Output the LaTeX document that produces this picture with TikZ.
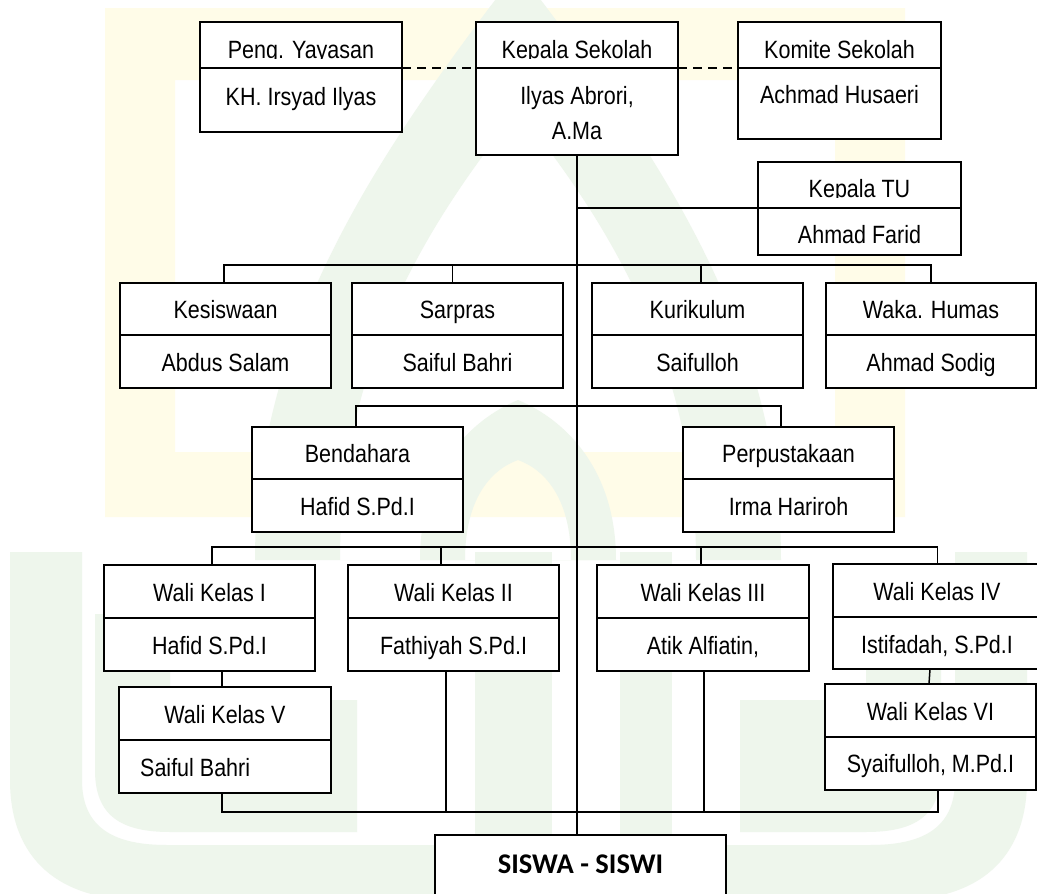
\documentclass[tikz,border=0pt]{standalone}
\usepackage{fontspec}
\newfontfamily\lsans{Liberation Sans}[FakeStretch=0.86]
\newfontfamily\calib{Carlito}
\definecolor{wmY}{RGB}{255,252,232}
\definecolor{wmG}{RGB}{238,246,236}
\tikzset{
  box/.style={draw=black, fill=white, line width=1.7pt, inner sep=0pt, outer sep=0pt},
  divline/.style={line width=1.7pt},
  conn/.style={line width=1.5pt},
  txt/.style={font=\lsans\fontsize{25}{30}\selectfont, inner sep=0pt, anchor=base},
  bigtxt/.style={font=\calib\bfseries\fontsize{28.5}{33}\selectfont, inner sep=0pt, anchor=base},
}
\newcommand\orgbox[6]{%
  \node[box, minimum width={(#4-#2)*1pt}, minimum height={(#6-#3)*1pt}] (#1) at ({(#2+#4)/2},{(#3+#6)/2}) {};
  \coordinate (#1dw) at (#2,#5);
  \coordinate (#1de) at (#4,#5);
  \draw[divline] (#1dw) -- (#1de);
}
\begin{document}
\begin{tikzpicture}[x=1pt,y=-1pt]
\useasboundingbox (0,0) rectangle (1037,894);
\clip (0,0) rectangle (1037,894);
\fill[white] (0,0) rectangle (1037,894);
% ---- watermark ----
\fill[wmY, even odd rule] (105,8) rectangle (905,517) (175,80) rectangle (835,452);
\fill[wmG, even odd rule]
  (255,560) .. controls (255,330) and (380,150) .. (518,-30) .. controls (656,150) and (781,330) .. (781,560) -- cycle
  (340,560) .. controls (340,360) and (430,220) .. (518,110) .. controls (606,220) and (696,360) .. (696,560) -- cycle;
\fill[wmG, even odd rule]
  (420,560) .. controls (420,470) and (470,420) .. (518,400) .. controls (566,420) and (616,470) .. (616,560) -- cycle
  (465,560) .. controls (465,500) and (490,470) .. (518,460) .. controls (546,470) and (571,500) .. (571,560) -- cycle;
\fill[wmG] (10,552) -- (10,780) .. controls (10,860) and (60,900) .. (140,900) -- (897,900) .. controls (977,900) and (1027,860) .. (1027,780) -- (1027,552) -- (955,552) -- (955,780) .. controls (955,830) and (920,845) .. (870,845) -- (167,845) .. controls (117,845) and (82,830) .. (82,780) -- (82,552) -- cycle;
\fill[wmG] (95,614) -- (95,770) .. controls (95,815) and (120,832) .. (170,832) -- (357,832) -- (357,700) -- (170,700) -- (170,614) -- cycle;
\fill[wmG] (475,552) rectangle (552,845);
\fill[wmG] (620,552) rectangle (672,845);
\fill[wmG] (941,614) -- (941,770) .. controls (941,815) and (916,832) .. (866,832) -- (740,832) -- (740,700) -- (866,700) -- (866,614) -- cycle;
% ---- boxes ----
\orgbox{peng}{200}{22}{402}{68}{132}
\orgbox{ks}{476}{22}{678}{68}{155}
\orgbox{kom}{738}{22}{941}{68}{139}
\orgbox{tu}{758}{162}{961}{208}{255}
\orgbox{kes}{120}{283}{331}{335}{388}
\orgbox{sar}{352}{283}{563}{335}{388}
\orgbox{kur}{592}{283}{803}{335}{388}
\orgbox{hum}{826}{283}{1036}{335}{388}
\orgbox{ben}{252}{427}{463}{479}{532}
\orgbox{per}{683}{427}{894}{479}{532}
\orgbox{wa}{104}{565}{315}{618}{671}
\orgbox{wb}{348}{565}{559}{618}{671}
\orgbox{wc}{597}{565}{809}{618}{671}
\orgbox{wd}{833}{564}{1042}{617}{669}
\orgbox{we}{119}{687}{331}{740}{793}
\orgbox{wf}{825}{684}{1036}{737}{790}
\node[box, minimum width=291pt, minimum height=80pt] (sis) at (580.5,875) {};
% ---- texts ----
\begin{scope}
  \clip (200,20) rectangle (402,58.8);
  \node[txt] (pengt) at (301,58) {Peng. Yayasan};
\end{scope}
\node[txt] (pengb) at (301,105) {KH. Irsyad Ilyas};
\begin{scope}
  \clip (476,20) rectangle (678,58.8);
  \node[txt] (kst) at (577,58) {Kepala Sekolah};
\end{scope}
\node[txt] (ksb) at (577,104) {Ilyas Abrori,};
\node[txt] (ksc) at (577,139) {A.Ma};
\node[txt] (komt) at (839.5,58) {Komite Sekolah};
\node[txt] (komb) at (839.5,103) {Achmad Husaeri};
\begin{scope}
  \clip (758,160) rectangle (961,197.8);
  \node[txt] (tut) at (859.5,197) {Kepala TU};
\end{scope}
\node[txt] (tub) at (859.5,243) {Ahmad Farid};
\node[txt] (kest) at (225.5,318) {Kesiswaan};
\node[txt] (kesb) at (225.5,371) {Abdus Salam};
\node[txt] (sart) at (457.5,318) {Sarpras};
\node[txt] (sarb) at (457.5,371) {Saiful Bahri};
\node[txt] (kurt) at (697.5,318) {Kurikulum};
\node[txt] (kurb) at (697.5,371) {Saifulloh};
\node[txt] (humt) at (931,318) {Waka. Humas};
\node[txt] (humb) at (931,371) {Ahmad Sodig};
\node[txt] (bent) at (357.5,462) {Bendahara};
\node[txt] (benb) at (357.5,515) {Hafid S.Pd.I};
\node[txt] (pert) at (788.5,462) {Perpustakaan};
\node[txt] (perb) at (788.5,515) {Irma Hariroh};
\node[txt] (wat) at (209.5,601) {Wali Kelas I};
\node[txt] (wab) at (209.5,654) {Hafid S.Pd.I};
\node[txt] (wbt) at (453.5,601) {Wali Kelas II};
\node[txt] (wbb) at (453.5,654) {Fathiyah S.Pd.I};
\node[txt] (wct) at (703,601) {Wali Kelas III};
\node[txt] (wcb) at (703,654) {Atik Alfiatin,};
\node[txt] (wdt) at (937,600) {Wali Kelas IV};
\node[txt] (wdb) at (937,653) {Istifadah, S.Pd.I};
\node[txt] (wet) at (225,723) {Wali Kelas V};
\node[txt, anchor=base west] (web) at (140,776) {Saiful Bahri};
\node[txt] (wft) at (930.5,720) {Wali Kelas VI};
\node[txt] (wfb) at (930.5,772) {Syaifulloh, M.Pd.I};
\node[bigtxt] (sist) at (580.5,873) {SISWA - SISWI};
% ---- connectors ----
\coordinate (r2) at (0,265);
\coordinate (r3) at (0,406);
\coordinate (r4) at (0,547);
\coordinate (r5) at (0,812);
\draw[conn, dashed, dash pattern=on 9pt off 6pt] (pengde) -- (ksdw);
\draw[conn, dashed, dash pattern=on 9pt off 6pt] (ksde) -- ([xshift=16pt]komdw);
\draw[conn] (ks.south) -- (ks.south |- sis.north);
\draw[conn] (ks.south |- tudw) -- (tudw);
\draw[conn] ([xshift=-1.5pt]kes.north) -- ([xshift=-1.5pt]kes.north |- r2) -- (hum.north |- r2) -- (hum.north);
\draw[conn] ([xshift=-5pt]sar.north) -- ([xshift=-5pt]sar.north |- r2);
\draw[conn] ([xshift=3.5pt]kur.north) -- ([xshift=3.5pt]kur.north |- r2);
\draw[conn] ([xshift=-1.5pt]ben.north) -- ([xshift=-1.5pt]ben.north |- r3) -- ([xshift=-7.5pt]per.north |- r3) -- ([xshift=-7.5pt]per.north);
\draw[conn] ([xshift=2.5pt]wa.north) -- ([xshift=2.5pt]wa.north |- r4) -- (wd.north |- r4) -- (wd.north);
\draw[conn] ([xshift=-12.5pt]wb.north) -- ([xshift=-12.5pt]wb.north |- r4);
\draw[conn] ([xshift=-2pt]wc.north) -- ([xshift=-2pt]wc.north |- r4);
\draw[conn] ([xshift=12.5pt]wa.south) -- ([xshift=-3pt]we.north);
\draw[conn] ([xshift=-7.5pt]wd.south) -- ([xshift=-1.5pt]wf.north);
\draw[conn] ([xshift=-3pt]we.south) -- ([xshift=-3pt]we.south |- r5) -- ([xshift=7.5pt]wf.south |- r5) -- ([xshift=7.5pt]wf.south);
\draw[conn] ([xshift=-7.5pt]wb.south) -- ([xshift=-7.5pt]wb.south |- r5);
\draw[conn] ([xshift=1pt]wc.south) -- ([xshift=1pt]wc.south |- r5);
\end{tikzpicture}
\end{document}
